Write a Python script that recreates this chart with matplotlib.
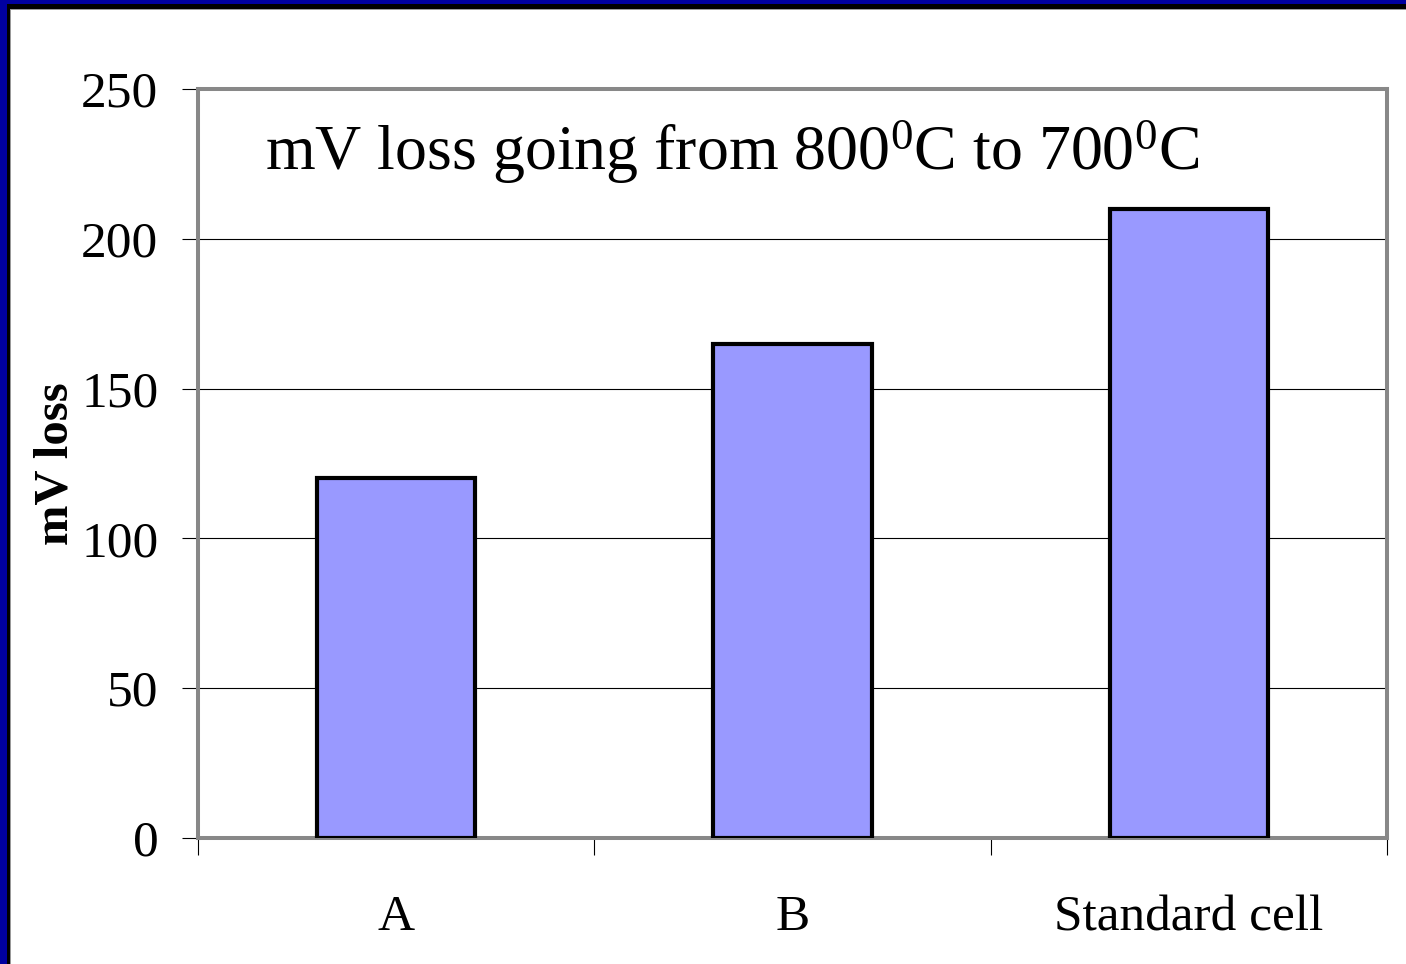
import matplotlib
matplotlib.use("Agg")
import matplotlib.pyplot as plt
from matplotlib.patches import Rectangle

categories = ["A", "B", "Standard cell"]
values = [120, 165, 210]
yticks = [0, 50, 100, 150, 200, 250]
title = "mV loss going from 800$^0$C to 700$^0$C"
ylabel = "mV loss"

plt.rcParams['font.family'] = ['Liberation Serif', 'DejaVu Serif']
plt.rcParams['mathtext.fontset'] = 'custom'
plt.rcParams['mathtext.rm'] = 'Liberation Serif'
plt.rcParams['mathtext.it'] = 'Liberation Serif:italic'
plt.rcParams['mathtext.bf'] = 'Liberation Serif:bold'

W, H = 1406, 964
fig = plt.figure(figsize=(W / 100, H / 100), dpi=100)
fig.patch.set_facecolor('white')

ax = fig.add_axes([198 / W, 1 - 838 / H, (1387 - 198) / W, (838 - 89) / H])
x = list(range(len(categories)))
ax.bar(x, values, width=0.4, color='#9999FF', edgecolor='black', linewidth=3.0, zorder=3)
ax.set_xlim(-0.5, len(categories) - 0.5)
ax.set_ylim(0, 250)

ax.set_yticks(yticks)
ax.set_yticklabels([str(v) for v in yticks], fontsize=37)
ax.tick_params(axis='y', length=11.5, width=0.8, color='black', pad=17)

ax.set_xticks([i - 0.5 for i in range(len(categories) + 1)])
ax.set_xticklabels([])
ax.tick_params(axis='x', which='major', length=12, width=0.8, color='black')
ax.set_xticks(x, minor=True)
ax.set_xticklabels(categories, minor=True, fontsize=37)
ax.tick_params(axis='x', which='minor', length=0, pad=41)

ax.yaxis.grid(True, color='black', linewidth=0.8, zorder=0)
ax.set_axisbelow(True)
for s in ['top', 'right', 'bottom', 'left']:
    ax.spines[s].set_color('#888888')
    ax.spines[s].set_linewidth(2.9)

fig.text(265 / W, 1 - 170 / H, title, fontsize=46, ha='left', va='baseline')
fig.text(55 / W, 1 - 464 / H, ylabel, rotation=90, fontsize=35, fontweight='bold',
         ha='center', va='center')

# frame (top and left)
fig.patches.append(Rectangle((0, 1 - 4 / H), 1, 4 / H, transform=fig.transFigure,
                             facecolor='#0000A0', edgecolor='none', zorder=10))
fig.patches.append(Rectangle((0, 1 - 9 / H), 1, 5 / H, transform=fig.transFigure,
                             facecolor='black', edgecolor='none', zorder=9))
fig.patches.append(Rectangle((0, 1 - 10 / H), 1, 1 / H, transform=fig.transFigure,
                             facecolor='#999999', edgecolor='none', zorder=8))
fig.patches.append(Rectangle((0, 0), 7 / W, 1, transform=fig.transFigure,
                             facecolor='#0000A0', edgecolor='none', zorder=10))
fig.patches.append(Rectangle((7 / W, 0), 3 / W, 1 - 4 / H, transform=fig.transFigure,
                             facecolor='black', edgecolor='none', zorder=9))
fig.patches.append(Rectangle((10 / W, 0), 1 / W, 1 - 9 / H, transform=fig.transFigure,
                             facecolor='#999999', edgecolor='none', zorder=8))

fig.savefig('out.png', dpi=100, facecolor='white')
